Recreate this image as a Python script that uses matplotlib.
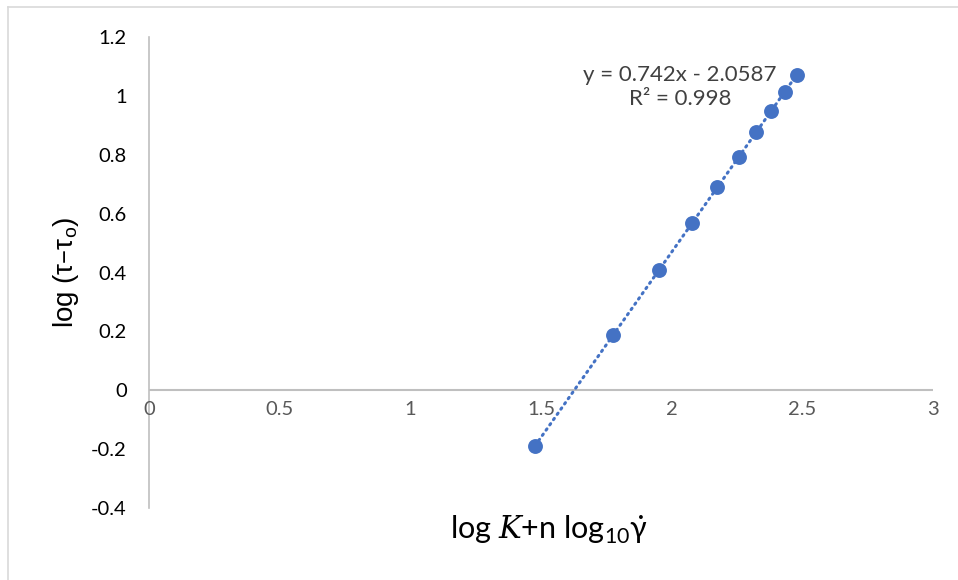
import matplotlib.pyplot as plt
import numpy as np
from matplotlib.lines import Line2D

plt.rcParams['mathtext.fontset'] = 'dejavuserif'

# log K + n log10(shear rate) vs log(tau - tau_o)
x_vals = [1.477, 1.776, 1.952, 2.078, 2.174, 2.258, 2.323, 2.380, 2.434, 2.480]
y_vals = [-0.190, 0.187, 0.410, 0.568, 0.690, 0.793, 0.878, 0.949, 1.014, 1.071]

x_ticks = [0, 0.5, 1, 1.5, 2, 2.5, 3]
y_ticks = [-0.4, -0.2, 0, 0.2, 0.4, 0.6, 0.8, 1, 1.2]
fit_label = "y = 0.742x - 2.0587\nR² = 0.998"

blue = '#4472C4'
axis_grey = '#BFBFBF'

fig = plt.figure(figsize=(9.58, 5.8), dpi=100)
ax = fig.add_axes([0.1555, 0.1241, 0.8184, 0.8121])

x = np.array(x_vals)
y = np.array(y_vals)

# linear trendline over the data range
coef = np.polyfit(x, y, 1)
xt = np.array([x.min(), x.max()])
ax.plot(xt, np.polyval(coef, xt), color=blue, lw=2.2, ls=(0, (0.5, 1.6)),
        dash_capstyle='round', zorder=2)
ax.scatter(x, y, s=115, color=blue, zorder=3, linewidths=0)

ax.set_xlim(0, 3)
ax.set_ylim(-0.4, 1.2)

# axes cross at the origin, no ticks
for s in ['top', 'right', 'bottom']:
    ax.spines[s].set_visible(False)
ax.spines['left'].set_color(axis_grey)
ax.spines['left'].set_linewidth(1.2)
ax.axhline(0, color=axis_grey, lw=1.5, zorder=1)
ax.tick_params(length=0)

ax.set_yticks(y_ticks)
ax.set_yticklabels([f'{v:g}' for v in y_ticks], fontsize=14.5,
                   family='Lato', color='black')
ax.tick_params(axis='y', pad=16)

# x tick labels sit just under the zero line
ax.set_xticks([])
for v in x_ticks:
    ax.text(v, -0.065, f'{v:g}', ha='center', va='center', fontsize=14.5,
            family='Lato', color='#595959')

fig.text(0.069, 0.531, r'log (τ–τ$_\mathregular{o}$)', rotation=90,
         ha='center', va='center', fontsize=20, family='Liberation Sans')
fig.text(0.573, 0.086, r'log $K$+n log$_\mathregular{10}$γ̇', ha='center',
         va='center', fontsize=22, family='Lato')

ax.text(2.032, 1.031, fit_label, ha='center', va='center', fontsize=16,
        family='Lato', color='#404040', linespacing=1.25,
        multialignment='center')

# chart frame lines
fig.add_artist(Line2D([8 / 958, 8 / 958], [0, 1 - 7 / 580],
                      transform=fig.transFigure, color='#D9D9D9', lw=1.2))
fig.add_artist(Line2D([8 / 958, 1], [1 - 7 / 580, 1 - 7 / 580],
                      transform=fig.transFigure, color='#D9D9D9', lw=1.2))

fig.savefig('out.png', dpi=100)
